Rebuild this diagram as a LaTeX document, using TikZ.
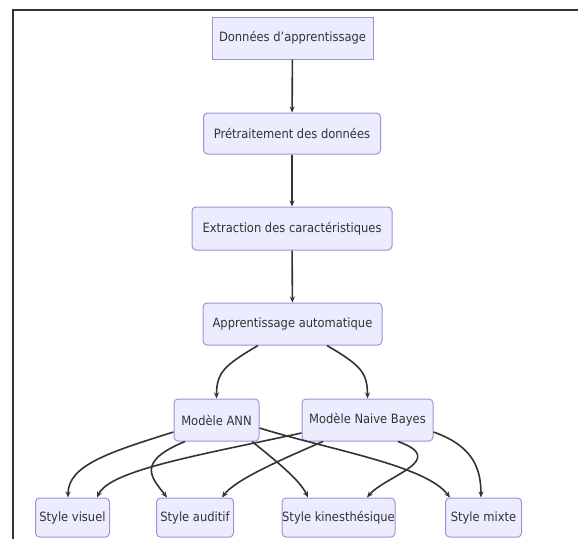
\documentclass[tikz,border=0pt]{standalone}
\usepackage{fontspec}
\setmainfont{DejaVu Sans Condensed}
\usetikzlibrary{arrows.meta}
\definecolor{boxfill}{RGB}{236,236,255}
\definecolor{boxline}{RGB}{160,145,215}
\definecolor{ink}{RGB}{51,51,51}
\begin{document}
\begin{tikzpicture}[x=1pt,y=-1pt,
  box/.style={draw=boxline,fill=boxfill,line width=1pt,rounded corners=4pt,inner sep=0pt,text=ink,font=\fontsize{12.8}{14}\selectfont},
  edge/.style={draw=ink,line width=1.6pt,-{Stealth[length=6pt,width=5pt]}}]
\useasboundingbox (0,0) rectangle (578,539);
\draw[ink,line width=1.5pt] (13,539) -- (13,10) -- (578,10);
\node[box,sharp corners,minimum width=161pt,minimum height=42pt] (n1) at (292.5,38) {Données d'apprentissage};
\node[box,minimum width=177pt,minimum height=41pt] (n2) at (292,133.5) {Prétraitement des données};
\node[box,minimum width=200pt,minimum height=43pt] (n3) at (292,228.5) {Extraction des caractéristiques};
\node[box,minimum width=179pt,minimum height=42pt] (n4) at (292.5,324) {Apprentissage automatique};
\node[box,minimum width=85pt,minimum height=42pt] (n5) at (216.5,420) {Modèle ANN};
\node[box,minimum width=131pt,minimum height=42pt] (n6) at (367.5,420) {Modèle Naive Bayes};
\node[box,minimum width=74pt,minimum height=39pt] (s1) at (72.5,517.5) {Style visuel};
\node[box,minimum width=77pt,minimum height=39pt] (s2) at (195,517.5) {Style auditif};
\node[box,minimum width=113pt,minimum height=39pt] (s3) at (338.5,517.5) {Style kinesthésique};
\node[box,minimum width=76pt,minimum height=39pt] (s4) at (483.5,517.5) {Style mixte};
% main chain
\draw[edge] (n1) -- (n2);
\draw[edge] (n2) -- (n3);
\draw[edge] (n3) -- (n4);
\draw[edge] ([xshift=-34.5pt]n4.south) .. controls (225,365) and (216.5,372) .. (n5.north);
\draw[edge] ([xshift=34.5pt]n4.south) .. controls (360,365) and (367.5,372) .. (n6.north);
% ANN to styles
\draw[edge] ([yshift=-12pt]n5.west) .. controls (110,452) and (68,465) .. ([xshift=-4.5pt]s1.north);
\draw[edge] ([xshift=-31.5pt]n5.south) .. controls (135,462) and (152,478) .. ([xshift=-28pt]s2.north);
\draw[edge] ([xshift=35.5pt]n5.south) .. controls (275,460) and (300,480) .. ([xshift=-30.5pt]s3.north);
\draw[edge] ([yshift=-8pt]n5.east) .. controls (330,450) and (425,465) .. ([xshift=-33.5pt]s4.north);
% Naive Bayes to styles
\draw[edge] ([yshift=-13pt]n6.west) .. controls (200,455) and (110,470) .. ([xshift=24.5pt]s1.north);
\draw[edge] ([xshift=-44.5pt]n6.south) .. controls (280,460) and (235,480) .. ([xshift=27pt]s2.north);
\draw[edge] ([xshift=30.5pt]n6.south) .. controls (450,460) and (385,476) .. ([xshift=28.5pt]s3.north);
\draw[edge] ([yshift=-12pt]n6.east) .. controls (470,445) and (481,465) .. ([xshift=-2.5pt]s4.north);
\end{tikzpicture}
\end{document}
